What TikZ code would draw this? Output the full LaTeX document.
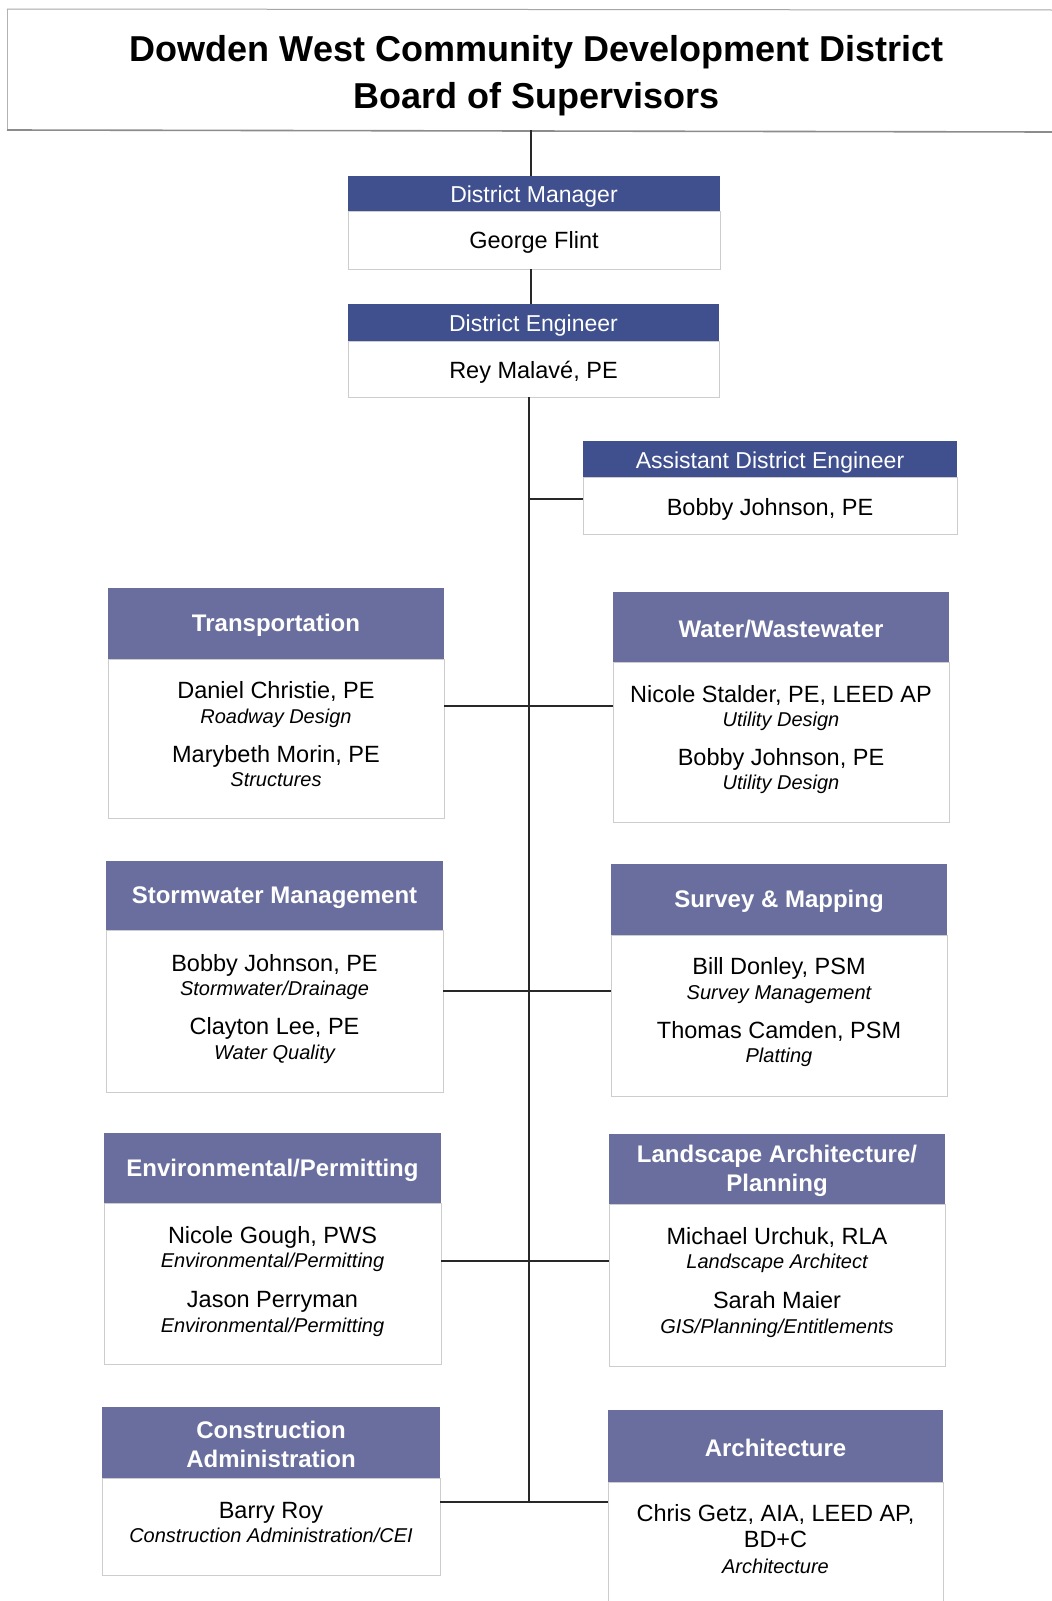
\documentclass[tikz,border=0pt]{standalone}
\usepackage{fontspec}
\setmainfont{Liberation Sans}
\definecolor{hdrdark}{RGB}{64,80,143}
\definecolor{hdrlight}{RGB}{106,110,158}
\definecolor{boxline}{RGB}{205,205,205}
\definecolor{connc}{RGB}{40,40,40}
\tikzset{
  hdrtop/.style={fill=hdrdark, draw=none, inner sep=0pt, outer sep=0pt},
  hdrtoptxt/.style={inner sep=0pt, text=white, yshift=-3.5pt,
     font=\fontsize{23}{28}\selectfont},
  hdrdept/.style={fill=hdrlight, draw=none, inner sep=0pt, outer sep=0pt},
  hdrdepttxt/.style={inner sep=0pt, text=white, align=center, yshift=-2pt,
     font=\fontsize{24}{29.5}\bfseries\selectfont},
  bodybox/.style={fill=white, draw=boxline, line width=0.9pt, inner sep=0pt, outer sep=0pt},
  nm/.style={anchor=base, inner sep=0pt, font=\fontsize{23.5}{28}\selectfont},
  role/.style={anchor=base, inner sep=0pt, font=\fontsize{20}{24}\itshape\selectfont},
  conn/.style={draw=connc, line width=1.4pt},
}
% #1 name, #2 x1, #3 x2, #4 ytop, #5 ysplit, #6 ybot, #7 header style, #8 title
\newcommand\orgbox[8]{%
  \node[bodybox, minimum width={(#3-#2)*1pt}, minimum height={(#6-#5)*1pt}] (#1) at ({(#2+#3)/2},{(#5+#6)/2}) {};
  \node[#7, minimum width={(#3-#2)*1pt}, minimum height={(#5-#4)*1pt}] (#1h) at ({(#2+#3)/2},{(#4+#5)/2}) {};
  \node[#7txt] (#1t) at (#1h.center) {#8};
}
\begin{document}
\begin{tikzpicture}[x=1pt,y=-1pt]
\useasboundingbox[fill=white] (0,0) rectangle (1052,1601);

% title
\node[inner sep=0pt, outer sep=0pt, minimum width=1059pt, minimum height=121pt] (title) at (536.5,69.5) {};
\draw[draw=black!35, line width=1pt] (7,9) -- (1052,10);
\draw[draw=black!30, line width=1pt] (7,9) -- (7,130);
\draw[draw=black!45, line width=1.6pt] (7,130) -- (1052,132);
\node[anchor=base, inner sep=0pt, font=\fontsize{36}{47}\bfseries\selectfont] (tl1) at (536.5,61) {Dowden West Community Development District};
\node[anchor=base, inner sep=0pt, font=\fontsize{36}{47}\bfseries\selectfont] (tl2) at (536.5,108) {Board of Supervisors};

% top boxes
\orgbox{dm}{348}{720}{176}{211}{269}{hdrtop}{District Manager}
\node[nm] (dmn) at (534,248.5) {George Flint};
\orgbox{de}{348}{719}{304}{341}{397}{hdrtop}{District Engineer}
\node[nm] (den) at (533.5,378.5) {Rey Malavé, PE};
\orgbox{ade}{583}{957}{441}{477}{534}{hdrtop}{Assistant District Engineer}
\node[nm] (aden) at (770,515) {Bobby Johnson, PE};

% departments
\orgbox{tr}{108}{444}{588}{659}{818}{hdrdept}{Transportation}
\node[nm] (tr1) at (276,698.5) {Daniel Christie, PE};
\node[role] (tr2) at (276,723) {Roadway Design};
\node[nm] (tr3) at (276,762.5) {Marybeth Morin, PE};
\node[role] (tr4) at (276,786) {Structures};

\orgbox{ww}{613}{949}{592}{662}{822}{hdrdept}{Water/Wastewater}
\node[nm] (ww1) at (781,702) {Nicole Stalder, PE, LEED AP};
\node[role] (ww2) at (781,726) {Utility Design};
\node[nm] (ww3) at (781,765.5) {Bobby Johnson, PE};
\node[role] (ww4) at (781,789) {Utility Design};

\orgbox{sw}{106}{443}{861}{930}{1092}{hdrdept}{Stormwater Management}
\node[nm] (sw1) at (274.5,971.5) {Bobby Johnson, PE};
\node[role] (sw2) at (274.5,995) {Stormwater/Drainage};
\node[nm] (sw3) at (274.5,1034.5) {Clayton Lee, PE};
\node[role] (sw4) at (274.5,1059) {Water Quality};

\orgbox{sm}{611}{947}{864}{935}{1096}{hdrdept}{Survey \& Mapping}
\node[nm] (sm1) at (779,974.5) {Bill Donley, PSM};
\node[role] (sm2) at (779,999) {Survey Management};
\node[nm] (sm3) at (779,1038.5) {Thomas Camden, PSM};
\node[role] (sm4) at (779,1062) {Platting};

\orgbox{ep}{104}{441}{1133}{1203}{1364}{hdrdept}{Environmental/Permitting}
\node[nm] (ep1) at (272.5,1243.5) {Nicole Gough, PWS};
\node[role] (ep2) at (272.5,1267) {Environmental/Permitting};
\node[nm] (ep3) at (272.5,1307.5) {Jason Perryman};
\node[role] (ep4) at (272.5,1332) {Environmental/Permitting};

\orgbox{la}{609}{945}{1134}{1204}{1366}{hdrdept}{Landscape Architecture/\\Planning}
\node[nm] (la1) at (777,1244.5) {Michael Urchuk, RLA};
\node[role] (la2) at (777,1268) {Landscape Architect};
\node[nm] (la3) at (777,1308.5) {Sarah Maier};
\node[role] (la4) at (777,1333) {GIS/Planning/Entitlements};

\orgbox{ca}{102}{440}{1407}{1478}{1575}{hdrdept}{Construction\\Administration}
\node[nm] (ca1) at (271,1518.5) {Barry Roy};
\node[role] (ca2) at (271,1542) {Construction Administration/CEI};

\orgbox{ar}{608}{943}{1410}{1482}{1610}{hdrdept}{Architecture}
\node[nm] (ar1) at (775.5,1521.5) {Chris Getz, AIA, LEED AP,};
\node[nm] (ar2) at (775.5,1547.5) {BD+C};
\node[role] (ar3) at (775.5,1573) {Architecture};

% connectors
\coordinate (ux) at (531,0);
\coordinate (tx) at (529,0);
\coordinate (j1) at (529,499);
\coordinate (j2) at (529,706);
\coordinate (j3) at (529,991);
\coordinate (j4) at (529,1261);
\coordinate (j5) at (529,1502);
\draw[conn] (title.south -| ux) -- (dmh.north -| ux);
\draw[conn] (dm.south -| ux) -- (deh.north -| ux);
\draw[conn] (de.south -| tx) -- (j5);
\draw[conn] (j1) -- (j1 -| ade.west);
\draw[conn] (j2 -| tr.east) -- (j2 -| ww.west);
\draw[conn] (j3 -| sw.east) -- (j3 -| sm.west);
\draw[conn] (j4 -| ep.east) -- (j4 -| la.west);
\draw[conn] (j5 -| ca.east) -- (j5 -| ar.west);
\end{tikzpicture}
\end{document}
